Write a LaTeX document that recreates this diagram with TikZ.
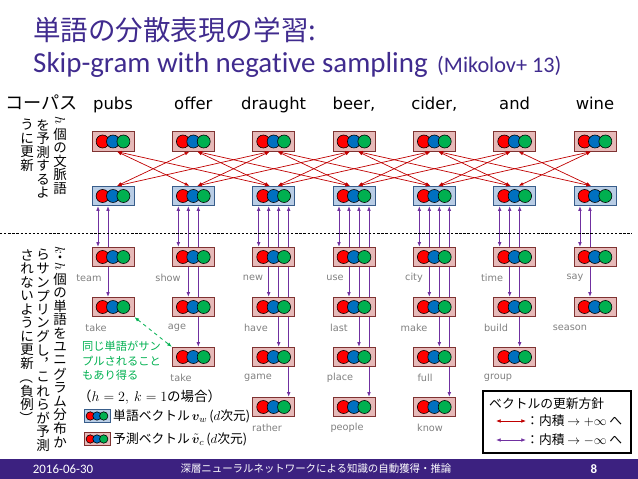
\documentclass[tikz,border=0pt]{standalone}
\usepackage{amsmath}
\usepackage{bm}
\usepackage{graphicx}
\usepackage{fontspec}
\setmainfont{Noto Sans CJK JP}
\newfontfamily\latinfont[Ligatures=NoCommon]{Carlito}
\newfontfamily\verdfont{DejaVu Sans}
\usetikzlibrary{
	arrows.meta,
	calc,
	backgrounds,
	positioning
}

\definecolor{titlepurple}{HTML}{402B8E}
\definecolor{footband}{HTML}{3C2180}
\definecolor{boxpink}{HTML}{E6B9B8}
\definecolor{pinkline}{HTML}{7F3332}
\definecolor{boxblue}{HTML}{B9CDE5}
\definecolor{blueline}{HTML}{385D8A}
\definecolor{ballred}{HTML}{FF0000}
\definecolor{ballblue}{HTML}{0070C0}
\definecolor{ballgreen}{HTML}{00B050}
\definecolor{arrowred}{HTML}{C00000}
\definecolor{arrowpurple}{HTML}{7030A0}
\definecolor{notegreen}{HTML}{00B050}
\definecolor{labelgray}{HTML}{808080}

\tikzset{
	vbox/.style={line width=0.8pt, minimum width=1.26cm, minimum height=0.58cm, inner sep=0pt},
	ctxbox/.style={vbox, fill=boxpink, draw=pinkline},
	wordbox/.style={vbox, fill=boxblue, draw=blueline},
	minictx/.style={ctxbox, minimum width=0.78cm, minimum height=0.39cm},
	miniword/.style={wordbox, minimum width=0.78cm, minimum height=0.39cm},
	colword/.style={font=\verdfont\fontsize{14}{16}\selectfont, anchor=base, inner sep=0pt},
	neglabel/.style={font=\verdfont\fontsize{8.3}{10}\selectfont, text=labelgray, inner sep=0pt},
	tatechar/.style={font=\fontsize{11.5}{12}\selectfont, inner sep=0pt},
	jptext/.style={font=\fontsize{10.9}{13}\selectfont, inner sep=0pt, anchor=west},
	ctxarrow/.style={>={Latex[length=1.4mm,width=1.1mm]}, <->, draw=arrowred, line width=0.6pt},
	negarrow/.style={>={Latex[length=1.4mm,width=1.1mm]}, <->, draw=arrowpurple, line width=0.7pt},
	samearrow/.style={>={Latex[length=1.4mm,width=1.1mm]}, <->, draw=notegreen, dashed, line width=0.7pt},
	sepline/.style={line width=0.5pt, dash pattern=on 2pt off 1.5pt},
}

% box with three balls: [radius] style, name, position
\newcommand{\vecnode}[4][6.5]{%
	\node[#2] (#3) at (#4) {};
	\foreach \dx/\col in {-1/ballred,0/ballblue,1/ballgreen}
	\filldraw[fill=\col, draw=black, line width=0.5pt] ($(#3.center)+({\dx*1.6*#1},0)$) circle[radius={#1*0.03cm}];
}
% vertical (tategaki) column: x, y of first char, chars
\newcommand{\tate}[3]{%
	\foreach \ch [count=\n from 0] in {#3}
	\node[tatechar] at (#1,{#2+13.6*\n}) {\ch};
}
\newcommand{\sidew}[1]{\rotatebox[origin=c]{-90}{#1}}

\begin{document}
\begin{tikzpicture}[x=0.03cm, y=-0.03cm]
	\useasboundingbox (0,0) rectangle (638,479);
	
	% title
	\node[anchor=base west, inner sep=0pt, text=titlepurple, font=\fontsize{23.5}{28}\selectfont] (title) at (33,41) {単語の分散表現の学習:};
	\node[anchor=base west, inner sep=0pt, text=titlepurple, font=\latinfont\fontsize{24.7}{28}\selectfont] (sub) at (33,73) {Skip-gram with negative sampling};
	\node[anchor=base west, inner sep=0pt, text=titlepurple, font=\latinfont\fontsize{19}{22}\selectfont] (cite) at (437,73) {(Mikolov+ 13)};
	
	% corpus row
	\node[anchor=base west, inner sep=0pt, font=\fontsize{15.5}{18}\selectfont] (corpus) at (5,110) {コーパス};
	\foreach \w [count=\i] in {pubs,offer,draught,{beer,},{cider,},and,wine} {
		\pgfmathsetmacro\cx{113+80.33*(\i-1)}
		\node[colword] (t\i) at (\cx,110) {\w};
		\vecnode{ctxbox}{c\i}{\cx,141.5}
		\vecnode{wordbox}{w\i}{\cx,196}
	}
	
	% context arrows, h=2
	\foreach \i in {1,...,7}
	\foreach \d in {-2,-1,1,2} {
		\pgfmathtruncatemacro\j{\i+\d}
		\ifnum\j>0 \ifnum\j<8
			\pgfmathsetmacro\s{\d>0 ? 4 : -4}
			\draw[ctxarrow] ($(w\i.north)+(\s,0)$) -- ($(c\j.south)+(-\s,0)$);
		\fi\fi
	}
	
	\draw[sepline] (0,233) -- (632,233);
	
	% negative samples
	\foreach \i/\k/\lab/\lx in {1/1/team/89, 1/2/take/96,
		2/1/show/168, 2/2/age/177, 2/3/take/181,
		3/1/new/253, 3/2/have/256, 3/3/game/258, 3/4/rather/267,
		4/1/use/335, 4/2/last/339, 4/3/place/340, 4/4/people/347,
		5/1/city/414, 5/2/make/414, 5/3/full/425, 5/4/know/430,
		6/1/time/492, 6/2/build/496, 6/3/group/498,
		7/1/say/575, 7/2/season/570} {
		\pgfmathsetmacro\cx{113+80.33*(\i-1)}
		\pgfmathsetmacro\ry{257+50*(\k-1)}
		\vecnode{ctxbox}{g\i\k}{\cx,\ry}
		\node[neglabel] (l\i\k) at (\lx,\ry+21) {\lab};
	}
	\begin{scope}[on background layer]
		\foreach \i/\n in {1/2,2/3,3/4,4/4,5/4,6/3,7/2}
		\foreach \k in {1,...,\n}
		\draw[negarrow] ($(w\i.south)+(-25+10*\k,0)$) coordinate (s) -- (s |- g\i\k.north);
	\end{scope}
	
	% same word note
	\draw[samearrow] (g12.south east) -- (g23.north west);
	\node[anchor=north west, inner sep=0pt, align=left, text=notegreen, font=\fontsize{9.6}{12.3}\selectfont] (note) at (82,341) {同じ単語がサン\\プルされること\\もあり得る};
	
	% vertical texts
	\node[tatechar] at (60,121) {\sidew{$h$}};
	\tate{60}{134}{個,の,文,脈,語}
	\tate{43}{125}{を,予,測,す,る,よ}
	\tate{27}{125}{う,に,更,新}
	\node[tatechar] at (60,251) {\sidew{$k$}};
	\node[tatechar] at (60,259) {・};
	\node[tatechar] at (60,267) {\sidew{$h$}};
	\tate{60}{279}{個,の,単,語,を,ユ,ニ,グ,ラ,ム,分,布,か}
	\tate{43}{255}{ら,サ,ン,プ,リ,ン,グ,し,︐,こ,れ,ら,が,予,測}
	\tate{27}{255}{さ,れ,な,い,よ,う,に,更,新,\sidew{（},負,例,\sidew{）}}
	
	% left legend
	\node[anchor=west, inner sep=0pt, font=\fontsize{11.5}{14}\selectfont] (case) at (78,397) {（$h=2,\ k=1$の場合）};
	\vecnode[4.2]{miniword}{lw}{97,416}
	\vecnode[4.2]{minictx}{lc}{97,439}
	\node[jptext] (lwt) at (113,416) {単語ベクトル\,$\bm{v}_w$\,($d$次元)};
	\node[jptext] (lct) at (113,439) {予測ベクトル\,$\tilde{\bm{v}}_c$\,($d$次元)};
	
	% right legend
	\node[draw, line width=1.2pt, minimum width=4.44cm, minimum height=1.86cm, inner sep=0pt] (leg) at (557,422) {};
	\node[jptext] (legtitle) at (489,404) {ベクトルの更新方針};
	\node[jptext] (legpos) at (526,421) {：内積 $\to +\infty$ へ};
	\node[jptext] (legneg) at (526,440) {：内積 $\to -\infty$ へ};
	\coordinate (lp) at (496,421);
	\coordinate (ln) at (496,440);
	\draw[ctxarrow] (lp) -- (legpos.west);
	\draw[negarrow] (ln) -- (legneg.west);
	
	% footer
	\fill[footband] (0,459) rectangle (638,479);
	\node[text=white, font=\latinfont\fontsize{11}{13}\selectfont] (date) at (63,469) {2016-06-30};
	\node[text=white, font=\fontsize{8.9}{11}\selectfont] (ftitle) at (316,469) {深層ニューラルネットワークによる知識の自動獲得・推論};
	\node[text=white, font=\latinfont\bfseries\fontsize{11}{13}\selectfont] (page) at (594,469) {8};
\end{tikzpicture}
\end{document}
